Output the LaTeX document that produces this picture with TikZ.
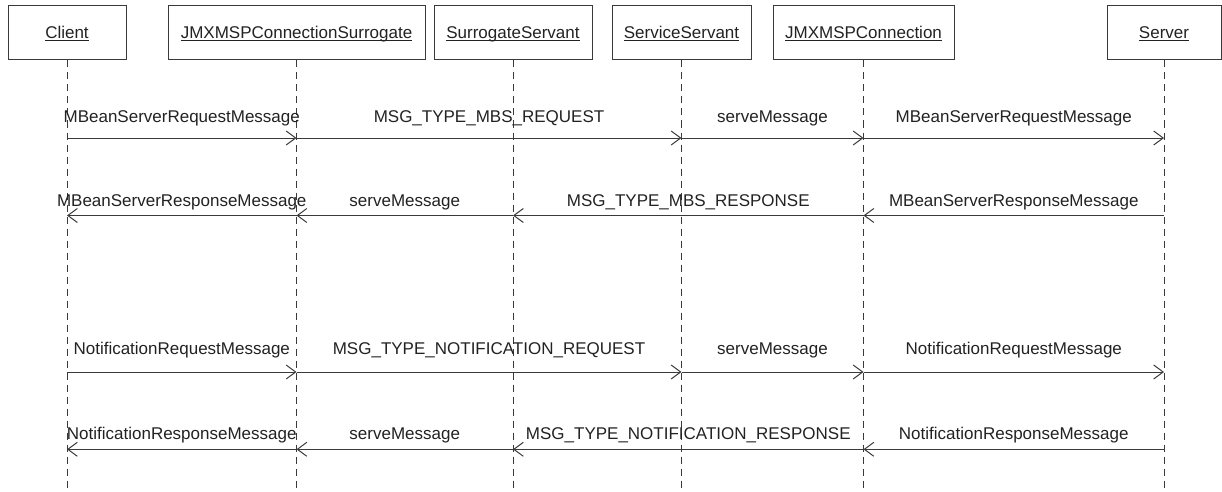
\documentclass[tikz,border=0pt]{standalone}
\usepackage{fontspec}
\setmainfont{Liberation Sans}
\usetikzlibrary{arrows.meta}
\definecolor{ink}{HTML}{222222}
\definecolor{linec}{HTML}{3A3A3A}
\newcommand\myul[1]{\setbox0\hbox{#1}\rlap{\rule[-1.9pt]{\wd0}{0.9pt}}\box0}
\tikzset{
  obj/.style={draw=linec, line width=1pt, minimum height=54pt, inner sep=0pt,
    text height=12pt, text depth=0pt, text=ink, font=\fontsize{17}{20}\selectfont},
  life/.style={draw=linec, line width=1pt, dash pattern=on 7pt off 5pt},
  msg/.style={draw=linec, line width=1pt, -{Straight Barb[length=9.5pt,width=14pt]}},
  lbl/.style={text=ink, font=\fontsize{17}{20}\selectfont, inner sep=0pt, anchor=base}
}
\begin{document}
\begin{tikzpicture}[x=1pt,y=-1pt]
\useasboundingbox (0,0) rectangle (1222,492);
% objects
\node[obj, minimum width=118pt] (cl) at (67,33) {\myul{Client}};
\node[obj, minimum width=257pt] (su) at (296.5,33) {\myul{JMXMSPConnectionSurrogate}};
\node[obj, minimum width=158pt] (ss) at (513,33) {\myul{SurrogateServant}};
\node[obj, minimum width=139pt] (sv) at (681.5,33) {\myul{ServiceServant}};
\node[obj, minimum width=181pt] (jc) at (863.5,33) {\myul{JMXMSPConnection}};
\node[obj, minimum width=114pt] (se) at (1164,33) {\myul{Server}};
% lifeline ends
\coordinate (bot) at (0,492);
\foreach \n in {cl,su,ss,sv,jc,se} {
  \draw[life] (\n.south) -- (\n.south |- bot);
}
% rows
\coordinate (r1) at (0,138);
\coordinate (r2) at (0,215.5);
\coordinate (r3) at (0,372);
\coordinate (r4) at (0,449.3);
% row 1
\draw[msg] (cl |- r1) -- node[lbl, midway, yshift=15.5pt] {MBeanServerRequestMessage} (su |- r1);
\draw[msg] (su |- r1) -- node[lbl, midway, yshift=15.5pt] {MSG\_TYPE\_MBS\_REQUEST} (sv |- r1);
\draw[msg] (sv |- r1) -- node[lbl, midway, yshift=15.5pt] {serveMessage} (jc |- r1);
\draw[msg] (jc |- r1) -- node[lbl, midway, yshift=15.5pt] {MBeanServerRequestMessage} (se |- r1);
% row 2
\draw[msg] (se |- r2) -- node[lbl, midway, yshift=9.5pt] {MBeanServerResponseMessage} (jc |- r2);
\draw[msg] (jc |- r2) -- node[lbl, midway, yshift=9.5pt] {MSG\_TYPE\_MBS\_RESPONSE} (ss |- r2);
\draw[msg] (ss |- r2) -- node[lbl, midway, yshift=9.5pt] {serveMessage} (su |- r2);
\draw[msg] (su |- r2) -- node[lbl, midway, yshift=9.5pt] {MBeanServerResponseMessage} (cl |- r2);
% row 3
\draw[msg] (cl |- r3) -- node[lbl, midway, yshift=18pt] {NotificationRequestMessage} (su |- r3);
\draw[msg] (su |- r3) -- node[lbl, midway, yshift=18pt] {MSG\_TYPE\_NOTIFICATION\_REQUEST} (sv |- r3);
\draw[msg] (sv |- r3) -- node[lbl, midway, yshift=18pt] {serveMessage} (jc |- r3);
\draw[msg] (jc |- r3) -- node[lbl, midway, yshift=18pt] {NotificationRequestMessage} (se |- r3);
% row 4
\draw[msg] (se |- r4) -- node[lbl, midway, yshift=10pt] {NotificationResponseMessage} (jc |- r4);
\draw[msg] (jc |- r4) -- node[lbl, midway, yshift=10pt] {MSG\_TYPE\_NOTIFICATION\_RESPONSE} (ss |- r4);
\draw[msg] (ss |- r4) -- node[lbl, midway, yshift=10pt] {serveMessage} (su |- r4);
\draw[msg] (su |- r4) -- node[lbl, midway, yshift=10pt] {NotificationResponseMessage} (cl |- r4);
\end{tikzpicture}
\end{document}
